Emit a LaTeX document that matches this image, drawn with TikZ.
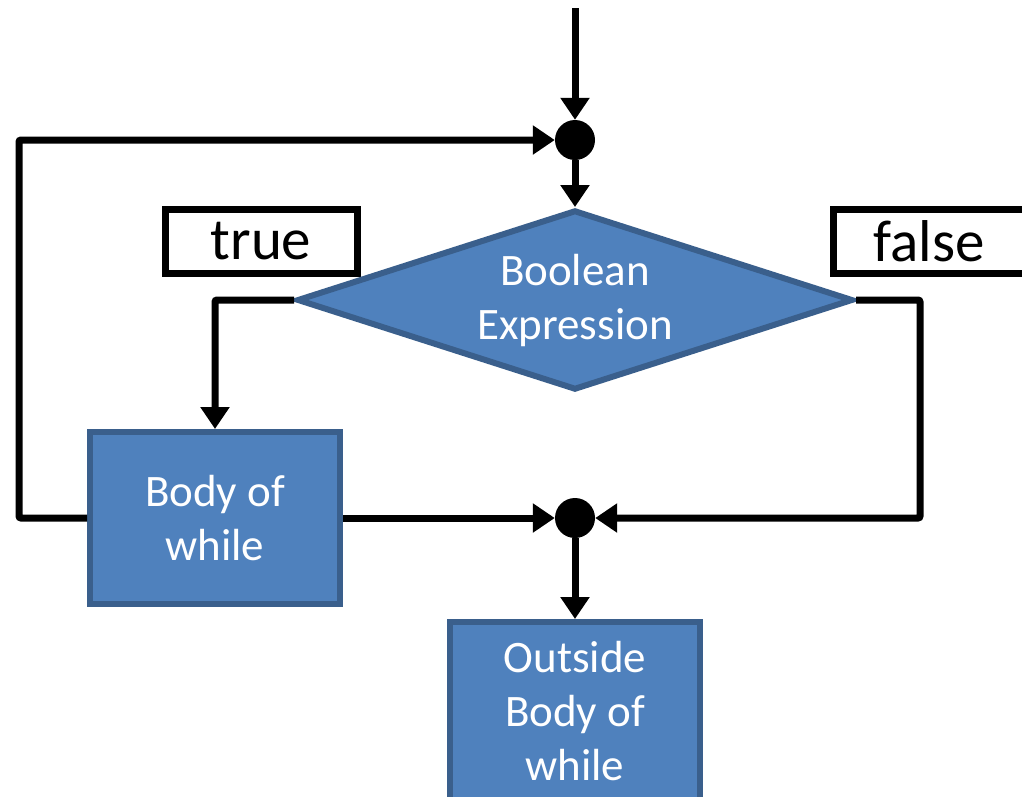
\documentclass[tikz,border=0pt]{standalone}
\usepackage{fontspec}
\setmainfont{Carlito}
\usetikzlibrary{arrows.meta,shapes.geometric}
\definecolor{boxfill}{HTML}{4F81BD}
\definecolor{boxline}{HTML}{3A5F8C}
\begin{document}
\begin{tikzpicture}[x=1pt,y=-1pt,
  flow/.style={line width=7pt,-{Triangle[length=22pt,width=28pt]},rounded corners=2pt},
  dot/.style={circle,fill=black,minimum size=40pt,inner sep=0pt},
  bluebox/.style={fill=boxfill,draw=boxline,line width=6pt,text=white,
    align=center,font=\fontsize{45}{54}\selectfont,inner sep=0pt},
  labelbox/.style={rectangle,draw=black,line width=7pt,fill=white,minimum width=192pt,
    minimum height=64pt,font=\fontsize{59}{66}\selectfont,inner sep=0pt}]
\useasboundingbox (0,0) rectangle (1022,796);
\fill[white] (0,0) rectangle (1022,796);

\node[labelbox] (tl) at (261,241) {true};
\node[labelbox] (fl) at (929,241) {false};
\node[dot] (j1) at (575,140) {};
\node[dot] (j2) at (575,518) {};
\node[bluebox,diamond,minimum width=556pt,minimum height=180pt,aspect=3.09] (dia) at (575,300) {Boolean\\Expression};
\node[bluebox,rectangle,minimum width=250pt,minimum height=172pt] (body) at (215,518) {Body of\\while};
\node[bluebox,rectangle,minimum width=250pt,minimum height=178pt] (out) at (575,711) {Outside\\Body of\\while};
\coordinate (entry) at (575,8);

\draw[flow] (entry) -- (j1);
\draw[flow] (j1) -- (dia.north);
\draw[flow] (dia.west) -| (body.north);
\draw[flow] (dia.east) -- ++(64,0) |- (j2);
\draw[flow] (body.east) -- (j2);
\draw[flow] (body.west) -- ++(-68,0) |- (j1);
\draw[flow] (j2) -- (out.north);
\end{tikzpicture}
\end{document}
